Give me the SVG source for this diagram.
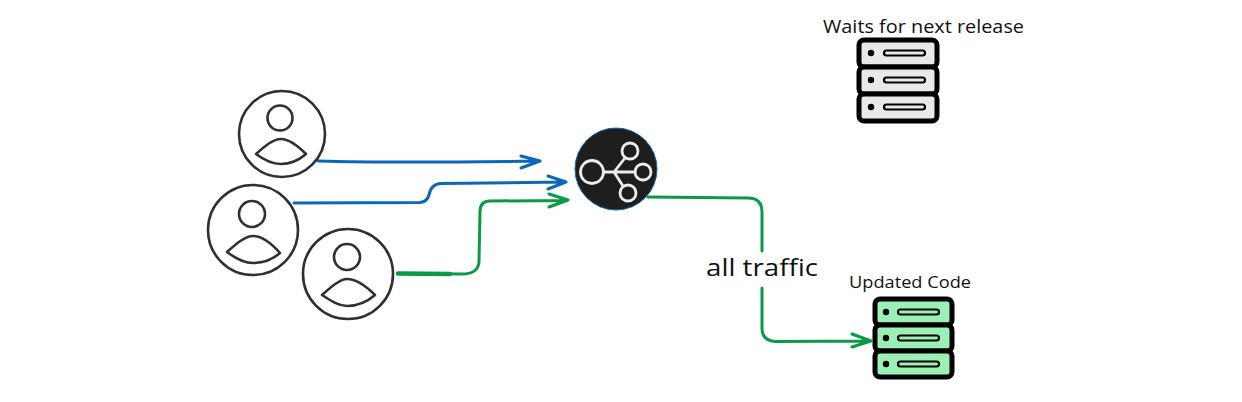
<svg xmlns="http://www.w3.org/2000/svg" width="1242" height="402" viewBox="0 0 1242 402">
<style>
.u{fill:#fff;stroke:#2f3033;stroke-width:2.6}
.p{fill:none;stroke:#2f3033;stroke-width:2.6;stroke-linejoin:round}
.c{fill:none;stroke-width:3;stroke-linecap:round;stroke-linejoin:round}
.b{stroke:#0b68b8}.g{stroke:#0a9a45}
.i{fill:none;stroke:#ececec;stroke-width:2.800;stroke-linecap:round}
.s{stroke:#000;stroke-width:5}
.bar{fill:none;stroke:#000;stroke-width:2.200}
.t{font-family:"Open Sans",sans-serif;fill:#111}
</style>
<g id="connectors">
<path class="c b" d="M318 161C390 163 470 162 538 161M521 156L540 161L521 168"/>
<path class="c b" d="M294 203L420 202.500Q427 202 429 195Q431 184 441 183.500L564 182M548 176L566 182L548 189"/>
<path class="c g" d="M398 273.500L462 274Q478 274 479 262L480 212Q480 201 490 201L566 200.500M549 194L568 200L549 207"/>
<path class="c g" style="stroke-width:4.500" d="M398 273.500L450 274"/>
<path class="c g" d="M648 197L748 198Q762 198 762 212L762 251M762 288L762 328Q762 341 776 341.500L869 341M852 334L871 341L852 347"/>
</g>
<g id="user-1">
<circle class="u" cx="282" cy="134" r="43"/>
<circle class="p" cx="280" cy="118" r="12.500"/>
<path class="p" d="M256 154C265 146 273 139 281 139C289 139 298 146 306 154C298 161 290 164 281 164C272 164 264 160 256 154Z"/>
</g>
<g id="user-2">
<circle class="u" cx="253" cy="230" r="45"/>
<circle class="p" cx="252" cy="214" r="13"/>
<path class="p" d="M227 252C236 244 245 236 253 236C262 236 272 244 280 253C272 260 263 263 253 263C244 263 235 258 227 252Z"/>
</g>
<g id="user-3">
<circle class="u" cx="348" cy="274" r="45"/>
<circle class="p" cx="347" cy="257" r="13"/>
<path class="p" d="M322 295C331 287 340 279 347 279C356 279 367 287 375 295C367 302 357 306 347 306C338 306 330 300 322 295Z"/>
</g>
<g id="hub">
<circle cx="616" cy="169" r="41" fill="#1e1e1e" stroke="#0b68b8" stroke-width="1"/>
<circle class="i" cx="592" cy="172" r="11.500"/>
<circle class="i" cx="630" cy="151" r="8"/>
<circle class="i" cx="643" cy="172" r="8"/>
<circle class="i" cx="628" cy="193" r="8"/>
<path class="i" d="M604 172H635M614 172L625 158M614 172L623 186"/>
</g>
<g id="server-waiting">
<text class="t" x="823" y="33" font-size="18" textLength="201" lengthAdjust="spacingAndGlyphs">Waits for next release</text>
<g fill="#e9e9e9">
<rect class="s" x="859" y="40" width="78" height="27" rx="5"/>
<rect class="s" x="859" y="67" width="78" height="27" rx="5"/>
<rect class="s" x="859" y="94" width="78" height="27" rx="5"/>
</g>
<g fill="#000"><circle cx="871" cy="53" r="3.200"/><circle cx="871" cy="80" r="3.200"/><circle cx="871" cy="107" r="3.200"/></g>
<rect class="bar" x="884" y="50.500" width="41" height="5" rx="2.500"/>
<rect class="bar" x="884" y="77.500" width="41" height="5" rx="2.500"/>
<rect class="bar" x="884" y="104.500" width="41" height="5" rx="2.500"/>
</g>
<g id="server-updated">
<text class="t" x="849" y="288" font-size="17" textLength="122" lengthAdjust="spacingAndGlyphs">Updated Code</text>
<g fill="#9bf0b5">
<rect class="s" x="875" y="299" width="77" height="26" rx="5"/>
<rect class="s" x="875" y="325" width="77" height="26" rx="5"/>
<rect class="s" x="875" y="351" width="77" height="26" rx="5"/>
</g>
<g fill="#000"><circle cx="886" cy="312" r="3.200"/><circle cx="886" cy="338" r="3.200"/><circle cx="886" cy="364" r="3.200"/></g>
<rect class="bar" x="898" y="309.500" width="41" height="5" rx="2.500"/>
<rect class="bar" x="898" y="335.500" width="41" height="5" rx="2.500"/>
<rect class="bar" x="898" y="361.500" width="41" height="5" rx="2.500"/>
</g>
<text id="label" class="t" x="706" y="276" font-size="24" textLength="112" lengthAdjust="spacingAndGlyphs">all traffic</text>
</svg>
